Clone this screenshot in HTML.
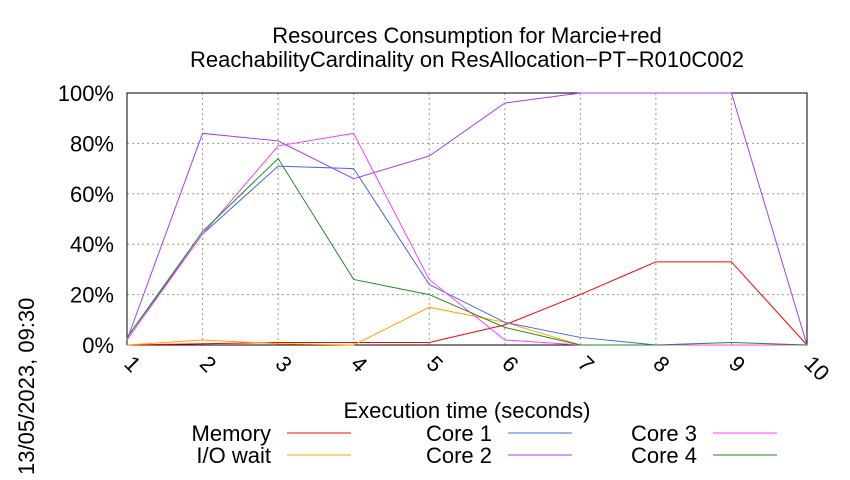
<!DOCTYPE html>
<html><head><meta charset="utf-8"><style>
body{margin:0;background:#fff;font-family:"Liberation Sans",sans-serif}
svg text{font-family:"Liberation Sans",sans-serif}
</style></head><body>
<svg id="c" width="850" height="475"></svg>
<script>
const categories=[1,2,3,4,5,6,7,8,9,10];
const yTicks=[0,20,40,60,80,100];
const memory=[0,0.5,1,1,1,8,20,33,33,0];
const ioWait=[0,2,0.5,0,15,9,0,0,0,0];
const core1=[3,44,71,70,24,9,3,0,0,0];
const core2=[2,84,81,66,75,96,100,100,100,0];
const core3=[2,44,79,84,26,2,0,0,0,0];
const core4=[3,45,74,26,20,7,0,0,1,0];
const series=[
 {name:"Memory",vals:memory,color:"#ff0000",lx:271,ly:433,key:"memory"},
 {name:"I/O wait",vals:ioWait,color:"#ffa500",lx:271,ly:455,key:"io-wait"},
 {name:"Core 1",vals:core1,color:"#4169e1",lx:492,ly:433,key:"core-1"},
 {name:"Core 2",vals:core2,color:"#a040ff",lx:492,ly:455,key:"core-2"},
 {name:"Core 3",vals:core3,color:"#ff40ff",lx:697,ly:433,key:"core-3"},
 {name:"Core 4",vals:core4,color:"#228b22",lx:697,ly:455,key:"core-4"}];
const L=127,R=807,T=93,B=345;
const xs=v=>L+(v-1)*(R-L)/9, ys=v=>B-v*(B-T)/100;
const s=document.getElementById('c');const NS="http://www.w3.org/2000/svg";
function mk(t,a,txt){const e=document.createElementNS(NS,t);for(const k in a)e.setAttribute(k,a[k]);if(txt!=null)e.textContent=txt;s.appendChild(e);return e;}
let e;
e=mk('text',{x:467,y:43,'text-anchor':'middle','font-size':22},'Resources Consumption for Marcie+red');

e=mk('text',{x:467,y:67,'text-anchor':'middle','font-size':22},'ReachabilityCardinality on ResAllocation−PT−R010C002');

yTicks.forEach(t=>{const y=ys(t);
 if(t>0&&t<100){e=mk('line',{x1:L,x2:R,y1:y,y2:y,stroke:'#999','stroke-dasharray':'2,3'});}
 e=mk('text',{x:L-13,y:y+8,'text-anchor':'end','font-size':22},t+'%');
 });
categories.forEach(c=>{const x=xs(c);
 if(c>1&&c<10){e=mk('line',{x1:x,x2:x,y1:T,y2:B,stroke:'#999','stroke-dasharray':'2,3'});}
 e=mk('text',{x:x-4,y:B+20,'font-size':22,transform:`rotate(45 ${x-4} ${B+20})`},c);
 });
e=mk('rect',{x:L,y:T,width:R-L,height:B-T,fill:'none',stroke:'#000','stroke-width':1});

series.forEach(sr=>{
 e=mk('polyline',{points:sr.vals.map((v,i)=>xs(categories[i])+','+ys(v)).join(' '),fill:'none',stroke:sr.color,'stroke-width':1});
 
 e=mk('text',{x:sr.lx,y:sr.ly+8,'text-anchor':'end','font-size':22},sr.name);
 
 e=mk('line',{x1:sr.lx+16,x2:sr.lx+80,y1:sr.ly,y2:sr.ly,stroke:sr.color,'stroke-width':1});
 });
e=mk('text',{x:467,y:418,'text-anchor':'middle','font-size':22},'Execution time (seconds)');

e=mk('text',{x:34,y:475,'font-size':22,transform:'rotate(-90 34 475)'},'13/05/2023, 09:30');

</script></body></html>
